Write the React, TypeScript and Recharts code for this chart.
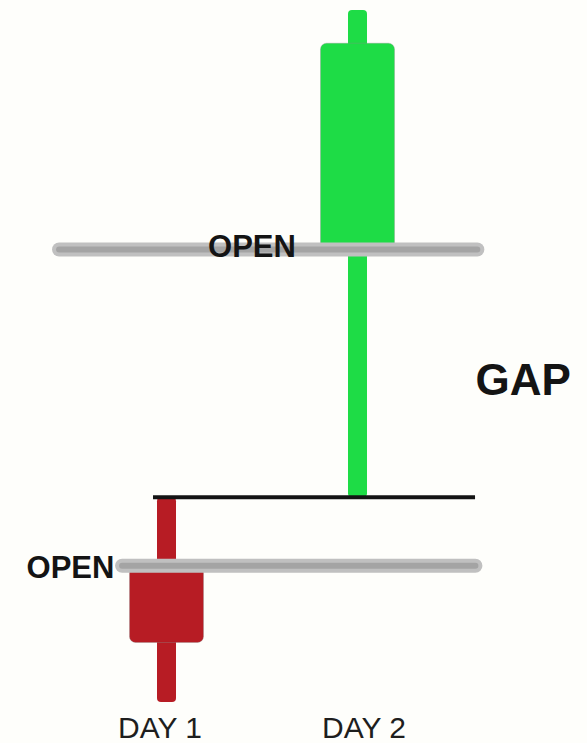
import React from 'react';
import { ComposedChart, Bar, XAxis, YAxis, ReferenceLine, ReferenceDot } from 'recharts';

// ---- data ----
const DAYS = ['DAY 1', 'DAY 2'];
const DAY_X = [1, 2];
const OPEN = [19.7, 65.4];
const CLOSE = [8.6, 95.2];
const HIGH = [29.6, 100];
const LOW = [0, 29.6];
const GAP_LEVEL = 29.6;
const OPEN_LABEL = 'OPEN';
const GAP_LABEL = 'GAP';

// ---- layout / style ----
const OPEN_LINE_SPANS = [
  [0.77, 2.62],
  [0.44, 2.63],
];
const GAP_LINE_SPAN = [0.932, 2.618];
const OPEN_LABEL_X = [0.5, 1.45];
const OPEN_LABEL_DY = [12, 8];
const GAP_LABEL_X = 2.87;
const DAY_LABEL_DX = [-6, 7];
const GREEN = '#1edc46';
const RED = '#b71c24';
const BG = '#fefefb';
const FONT = '"Liberation Sans", Arial, Helvetica, sans-serif';

const data = DAYS.map((day, i) => ({
  day,
  x: DAY_X[i],
  open: OPEN[i],
  close: CLOSE[i],
  high: HIGH[i],
  low: LOW[i],
}));

const Candle = (props: any) => {
  const { x, y, width, height, payload } = props;
  if (!payload) return null;
  const { open, close, high, low } = payload;
  const h = Math.abs(height);
  const top = height < 0 ? y + height : y;
  const ppu = h / (high - low);
  const yOf = (v: number) => top + (high - v) * ppu;
  const cx = x + width / 2;
  const color = close >= open ? GREEN : RED;
  const bTop = yOf(Math.max(open, close));
  const bBot = yOf(Math.min(open, close));
  return (
    <g>
      <rect x={cx - 9.5} y={top} width={19} height={h} rx={4} fill={color} />
      <rect
        x={x}
        y={bTop}
        width={width}
        height={bBot - bTop}
        rx={6}
        fill={color}
        stroke="#8c8c8c"
        strokeOpacity={0.35}
        strokeWidth={1}
      />
    </g>
  );
};

const DayTick = (props: any) => {
  const { x, y, payload } = props;
  const i = DAY_X.indexOf(payload.value);
  return (
    <text
      x={x + (DAY_LABEL_DX[i] ?? 0)}
      y={y}
      dy={36}
      textAnchor="middle"
      fontFamily={FONT}
      fontSize={30}
      fill="#1e1e1e"
    >
      {DAYS[i] ?? ''}
    </text>
  );
};

const textLabel = (value: string, dy: number, size: number) => (p: any) => {
  const vb = p.viewBox || {};
  const cx = (vb.x ?? 0) + (vb.width ?? 0) / 2;
  const cy = (vb.y ?? 0) + (vb.height ?? 0) / 2;
  return (
    <text
      x={cx}
      y={cy + dy}
      textAnchor="middle"
      fontFamily={FONT}
      fontWeight="bold"
      fontSize={size}
      fill="#141414"
    >
      {value}
    </text>
  );
};

export default function App() {
  return (
    <div style={{ position: 'absolute', left: 0, top: 0, width: 587, height: 743, background: BG }}>
      <ComposedChart
        width={587}
        height={743}
        data={data}
        margin={{ top: 10, right: 39, bottom: 0, left: 22.75 }}
      >
        <XAxis
          dataKey="x"
          type="number"
          domain={[0.25, 3]}
          ticks={DAY_X}
          axisLine={false}
          tickLine={false}
          tickSize={0}
          tickMargin={0}
          height={41}
          tick={<DayTick />}
          interval={0}
        />
        <YAxis hide domain={[0, 100]} type="number" />
        <Bar
          dataKey={(d: any) => [d.low, d.high]}
          barSize={74}
          shape={<Candle />}
          isAnimationActive={false}
        />
        <ReferenceLine
          segment={[{ x: GAP_LINE_SPAN[0], y: GAP_LEVEL }, { x: GAP_LINE_SPAN[1], y: GAP_LEVEL }]}
          stroke="#141414"
          strokeWidth={4}
        />
        {OPEN.map((o, i) => (
          <ReferenceLine
            key={'ol' + i}
            segment={[{ x: OPEN_LINE_SPANS[i][0], y: o }, { x: OPEN_LINE_SPANS[i][1], y: o }]}
            stroke="#c0c0c0"
            strokeWidth={14}
            strokeLinecap="round"
          />
        ))}
        {OPEN.map((o, i) => (
          <ReferenceLine
            key={'oc' + i}
            segment={[{ x: OPEN_LINE_SPANS[i][0], y: o }, { x: OPEN_LINE_SPANS[i][1], y: o }]}
            stroke="#a4a4a4"
            strokeWidth={6}
            strokeLinecap="round"
          />
        ))}
        {OPEN.map((o, i) => (
          <ReferenceDot
            key={'lbl' + i}
            x={OPEN_LABEL_X[i]}
            y={o}
            r={0}
            fill="none"
            stroke="none"
            label={textLabel(OPEN_LABEL, OPEN_LABEL_DY[i], 31)}
          />
        ))}
        <ReferenceDot
          x={GAP_LABEL_X}
          y={(GAP_LEVEL + OPEN[1]) / 2}
          r={0}
          fill="none"
          stroke="none"
          label={textLabel(GAP_LABEL, 22, 44)}
        />
      </ComposedChart>
    </div>
  );
}
